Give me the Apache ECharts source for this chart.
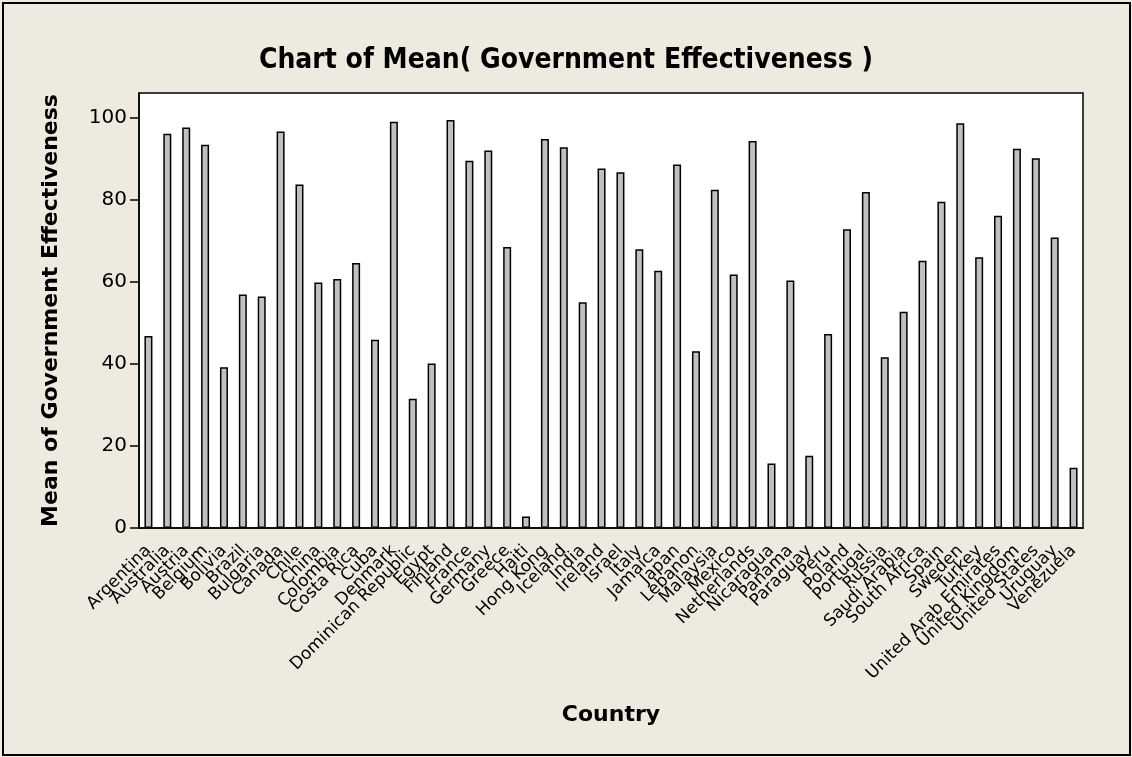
<!DOCTYPE html>
<html>
<head>
<meta charset="utf-8">
<script src="https://cdn.jsdelivr.net/npm/echarts@6/dist/echarts.min.js"></script>
<style>
html,body{margin:0;padding:0;background:#EEEAE0;}
#c{width:1132px;height:757px;}
</style>
</head>
<body>
<div id="c"></div>
<script>
const countries = ["Argentina","Australia","Austria","Belgium","Bolivia","Brazil","Bulgaria","Canada","Chile","China","Colombia","Costa Rica","Cuba","Denmark","Dominican Republic","Egypt","Finland","France","Germany","Greece","Haiti","Hong Kong","Iceland","India","Ireland","Israel","Italy","Jamaica","Japan","Lebanon","Malaysia","Mexico","Netherlands","Nicaragua","Panama","Paraguay","Peru","Poland","Portugal","Russia","Saudi Arabia","South Africa","Spain","Sweden","Turkey","United Arab Emirates","United Kingdom","United States","Uruguay","Venezuela"];
const meanValues = [46.8,96.1,97.6,93.4,39.2,56.9,56.4,96.6,83.7,59.8,60.7,64.6,45.9,99.0,31.5,40.1,99.4,89.5,92.0,68.5,2.8,94.8,92.8,55.0,87.6,86.7,67.9,62.7,88.6,43.1,82.4,61.8,94.3,15.7,60.3,17.6,47.3,72.8,81.9,41.6,52.7,65.1,79.5,98.6,66.0,76.1,92.4,90.1,70.8,14.7];
const yTicks = [0,20,40,60,80,100];

const chart = echarts.init(document.getElementById('c'), null, {renderer:'canvas'});
const font = 'Tahoma, "DejaVu Sans", sans-serif';
const titleFont = '"DejaVu Sans Condensed", "Liberation Sans Narrow", sans-serif';
chart.setOption({
  backgroundColor:'#EEEAE0',
  animation:false,
  graphic:[{type:'rect',silent:true,shape:{x:3,y:3,width:1127,height:752},style:{fill:'none',stroke:'#000',lineWidth:2}}],
  title:{text:'Chart of Mean( Government Effectiveness )',left:'center',top:42,
    textStyle:{fontFamily:titleFont,fontSize:28,fontWeight:'bold',color:'#000'}},
  grid:{left:139,right:49,top:93,bottom:229,show:true,backgroundColor:'#fff',borderColor:'#000',borderWidth:1.5},
  xAxis:{type:'category',data:countries,name:'Country',nameLocation:'middle',nameGap:176,
    nameTextStyle:{fontFamily:font,fontSize:22,fontWeight:'bold',color:'#000'},
    axisLine:{lineStyle:{color:'#000',width:1.5}},
    axisTick:{alignWithLabel:true,length:8,lineStyle:{color:'#000',width:1.5}},
    axisLabel:{interval:0,rotate:45,margin:20,fontFamily:font,fontSize:17,color:'#000'}},
  yAxis:{type:'value',min:0,max:106,interval:20,name:'Mean of Government Effectiveness',nameLocation:'middle',nameGap:77,
    nameTextStyle:{fontFamily:font,fontSize:22,fontWeight:'bold',color:'#000'},
    splitLine:{show:false},
    axisLine:{show:true,lineStyle:{color:'#000',width:1.5}},
    axisTick:{show:true,length:9,lineStyle:{color:'#000',width:1.5},customValues:yTicks},
    axisLabel:{fontFamily:font,fontSize:20,color:'#000',margin:12,customValues:yTicks}},
  series:[{type:'bar',data:meanValues,barWidth:8,
    itemStyle:{color:'#C0C0C0',borderColor:'#000',borderWidth:1.5}}]
});
</script>
</body>
</html>
